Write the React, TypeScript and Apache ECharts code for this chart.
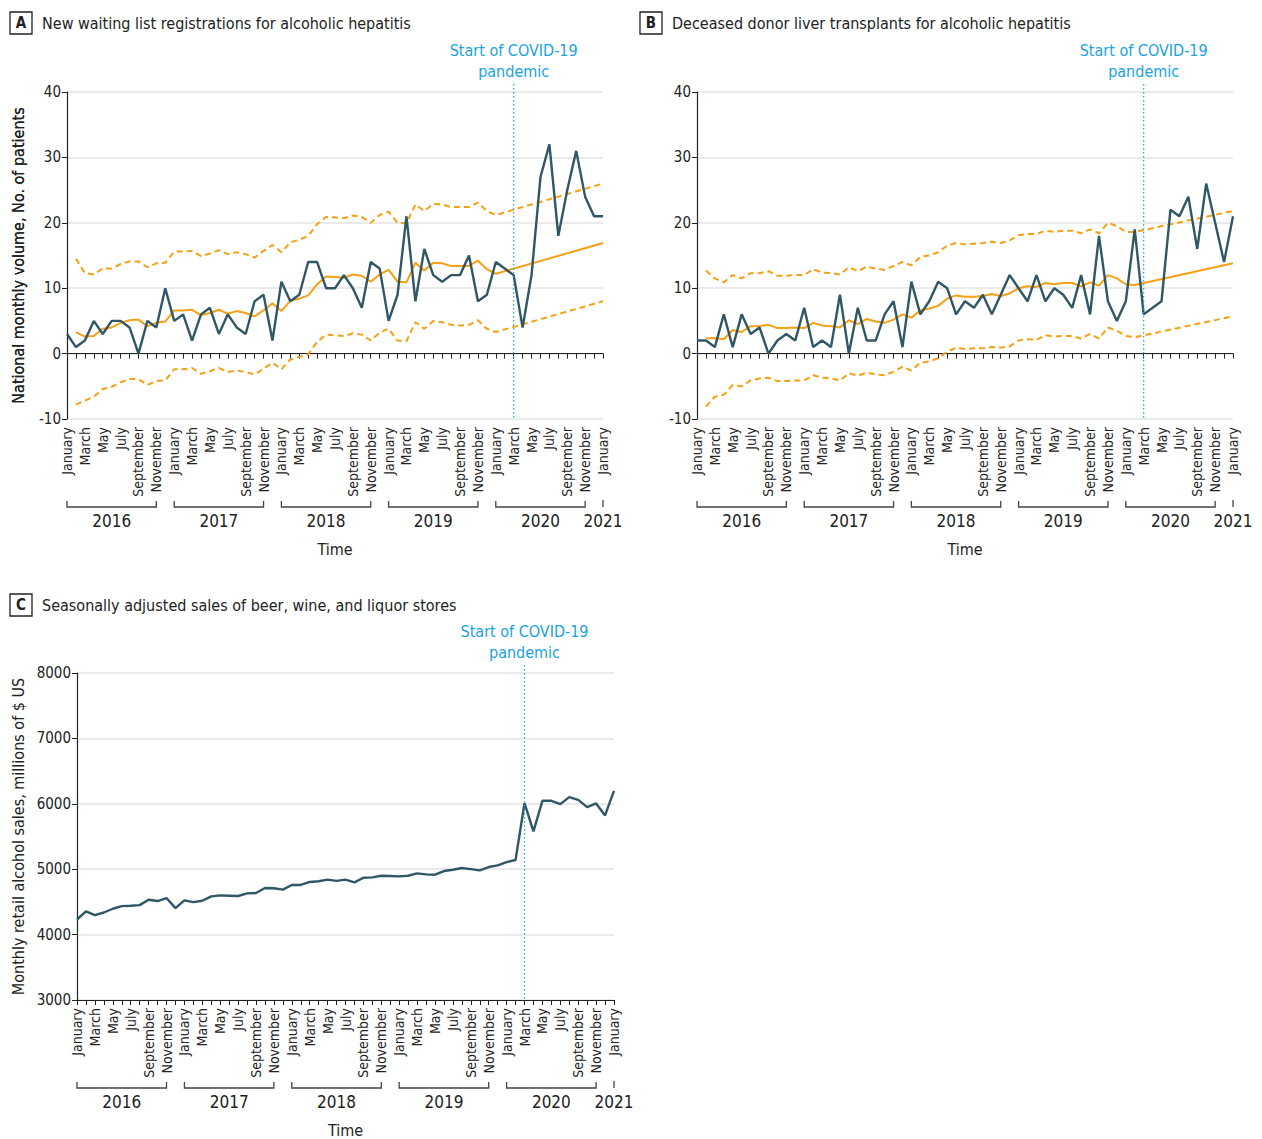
import React, { useEffect, useRef } from "react";
import * as echarts from "echarts";

const monthNames = ["January","February","March","April","May","June","July","August","September","October","November","December"];
const yearList = [2016, 2017, 2018, 2019, 2020];
const lastYear = 2021;

const categories: string[] = [];
yearList.forEach((y) => monthNames.forEach((m) => categories.push(m + " " + y)));
categories.push("January " + lastYear);

const N = null;

// Panel A: new waiting list registrations
const regA = [3,1,2,5,3,5,5,4,0,5,4,10, 5,6,2,6,7,3,6,4,3,8,9,2, 11,8,9,14,14,10,10,12,10,7,14,13, 5,9,21,8,16,12,11,12,12,15,8,9, 14,13,12,4,12,27,32,18,25,31,24,21,21];
const fitA = [N,3.3,2.6,2.7,3.8,4.0,4.7,5.1,5.2,4.2,4.7,4.9, 6.6,6.6,6.7,5.9,6.2,6.7,6.1,6.5,6.2,5.7,6.6,7.7, 6.5,8.1,8.4,8.9,10.6,11.8,11.7,11.6,12.1,11.9,11.0,12.1, 12.8,11.0,10.9,13.9,12.7,13.9,13.8,13.4,13.4,13.4,14.2,12.9, 12.2,N,N,N,N,N,N,N,N,N,N,N,16.9];
const upA = [N,14.5,12.3,12.1,13.0,13.0,13.7,14.1,14.1,13.2,13.8,13.9, 15.6,15.6,15.7,14.9,15.3,15.8,15.2,15.5,15.2,14.7,15.7,16.6, 15.5,17.0,17.4,18.0,19.8,20.9,20.8,20.7,21.1,20.9,20.0,21.2, 21.7,20.0,19.9,22.8,21.8,22.9,22.8,22.4,22.4,22.4,23.1,21.8, 21.2,N,N,N,N,N,N,N,N,N,N,N,26.0];
const loA = [N,-7.8,-7.2,-6.6,-5.4,-5.1,-4.4,-3.9,-3.9,-4.8,-4.2,-4.1, -2.4,-2.4,-2.2,-3.1,-2.7,-2.2,-2.8,-2.6,-2.8,-3.2,-2.3,-1.4, -2.4,-0.9,-0.5,-0.1,1.8,2.9,2.8,2.7,3.1,2.9,2.0,3.2, 3.8,2.0,1.9,4.8,3.8,5.0,4.8,4.4,4.3,4.4,5.1,3.8, 3.3,N,N,N,N,N,N,N,N,N,N,N,8.0];

// Panel B: deceased donor liver transplants
const regB = [2,2,1,6,1,6,3,4,0,2,3,2, 7,1,2,1,9,0,7,2,2,6,8,1, 11,6,8,11,10,6,8,7,9,6,9,12, 10,8,12,8,10,9,7,12,6,18,8,5, 8,19,6,7,8,22,21,24,16,26,20,14,21];
const fitB = [N,2.3,2.4,2.2,3.6,3.3,4.2,4.2,4.4,3.9,3.9,4.0, 3.9,4.7,4.3,4.2,4.0,5.1,4.5,5.3,4.9,4.7,5.2,6.0, 5.5,6.6,6.9,7.3,8.4,8.9,8.7,8.7,8.8,9.1,8.8,9.2, 10.0,10.3,10.2,10.8,10.6,10.8,10.8,10.3,10.9,10.4,12.0,11.5, 10.6,10.5,N,N,N,N,N,N,N,N,N,N,13.8];
const upB = [N,12.7,11.5,10.9,12.0,11.5,12.3,12.3,12.6,11.9,11.9,12.0, 12.0,12.9,12.4,12.3,12.1,13.2,12.6,13.3,13.0,12.8,13.4,14.0, 13.5,14.8,15.0,15.5,16.5,16.9,16.7,16.8,16.9,17.1,16.9,17.3, 18.1,18.3,18.3,18.8,18.6,18.8,18.8,18.4,19.0,18.4,20.0,19.5, 18.6,18.6,N,N,N,N,N,N,N,N,N,N,21.8];
const loB = [N,-8.1,-6.6,-6.3,-4.8,-5.0,-4.1,-3.8,-3.7,-4.2,-4.2,-4.1, -4.1,-3.3,-3.7,-3.8,-4.1,-3.0,-3.4,-2.9,-3.2,-3.3,-2.8,-2.0, -2.6,-1.4,-1.2,-0.7,0.3,0.9,0.7,0.8,0.8,1.0,0.9,1.1, 2.0,2.2,2.1,2.8,2.6,2.7,2.7,2.3,3.0,2.3,4.0,3.5, 2.7,2.5,N,N,N,N,N,N,N,N,N,N,5.7];

// Panel C: alcohol sales
const salesC = [4231,4354,4297,4338,4395,4436,4441,4451,4533,4513,4559,4405, 4523,4497,4518,4585,4600,4595,4590,4631,4636,4713,4708,4687, 4759,4759,4805,4815,4841,4821,4840,4799,4870,4875,4900,4895, 4890,4900,4936,4921,4916,4972,4992,5018,5002,4982,5033,5058, 5109,5140,6010,5578,6046,6046,5995,6102,6061,5949,6005,5822,6199];

const covidIndex = 50;
const titles = [
  { letter: "A", text: "New waiting list registrations for alcoholic hepatitis" },
  { letter: "B", text: "Deceased donor liver transplants for alcoholic hepatitis" },
  { letter: "C", text: "Seasonally adjusted sales of beer, wine, and liquor stores" },
];
const yNames = ["National monthly volume, No. of patients", "National monthly volume, No. of patients", "Monthly retail alcohol sales, millions of $ US"];
const covidLabel = ["Start of COVID-19", "pandemic"];
const xName = "Time";

const FONT = "'Liberation Sans Narrow', 'DejaVu Sans Condensed', 'Noto Sans', sans-serif";
const DARK = "#2f5766";
const ORANGE = "#f5a015";
const CYAN = "#1aa3df";
const INK = "#222";

const grids = [
  { left: 67, top: 92, width: 536, height: 327 },
  { left: 697, top: 92, width: 536, height: 327 },
  { left: 77, top: 673, width: 537, height: 327 },
];
const boxPos = [
  { x: 10, y: 12 },
  { x: 640, y: 12 },
  { x: 10, y: 594 },
];

export default function App() {
  const ref = useRef<HTMLDivElement>(null);
  useEffect(() => {
    if (!ref.current) return;
    const chart = echarts.init(ref.current, null, { renderer: "svg" });

    const xAxis = grids.map((_, k) => ({
      type: "category",
      gridIndex: k,
      data: categories,
      boundaryGap: false,
      axisLine: { show: true, lineStyle: { color: INK, width: 1.2 } },
      axisTick: { show: true, interval: 0, length: 5, lineStyle: { color: INK, width: 1 } },
      axisLabel: {
        interval: 1,
        rotate: 90,
        fontSize: 14,
        color: INK,
        margin: 8,
        fontFamily: FONT,
        formatter: (v: string) => v.split(" ")[0],
      },
      splitLine: { show: false },
    }));

    const yAxis = grids.map((_, k) => ({
      type: "value",
      gridIndex: k,
      min: k === 2 ? 3000 : -10,
      max: k === 2 ? 8000 : 40,
      interval: k === 2 ? 1000 : 10,
      axisLine: { show: true, lineStyle: { color: INK, width: 1.2 } },
      axisTick: { show: true, length: 5, lineStyle: { color: INK } },
      axisLabel: { fontSize: 15, color: INK, margin: 6, fontFamily: FONT, formatter: (v: number) => String(v) },
      splitLine: { show: true, lineStyle: { color: "#e3e3e3", width: 1.5 } },
    }));

    const line = (k: number, data: any[], color: string, width: number, dashed: boolean, z: number) => ({
      type: "line",
      xAxisIndex: k,
      yAxisIndex: k,
      data,
      showSymbol: false,
      symbol: "none",
      connectNulls: true,
      z,
      lineStyle: { color, width, type: dashed ? [6, 4] : "solid" },
      emphasis: { disabled: true },
    });

    const series = [
      line(0, upA, ORANGE, 2, true, 2),
      line(0, loA, ORANGE, 2, true, 2),
      line(0, fitA, ORANGE, 2, false, 2),
      line(0, regA, DARK, 2.4, false, 3),
      line(1, upB, ORANGE, 2, true, 2),
      line(1, loB, ORANGE, 2, true, 2),
      line(1, fitB, ORANGE, 2, false, 2),
      line(1, regB, DARK, 2.4, false, 3),
      line(2, salesC, DARK, 2.4, false, 3),
    ];

    chart.setOption({
      animation: false,
      textStyle: { fontFamily: FONT },
      grid: grids.map((g) => ({ ...g, containLabel: false })),
      xAxis,
      yAxis,
      series,
    });

    const graphic: any[] = [];
    grids.forEach((g, k) => {
      const px = (i: number) => chart.convertToPixel({ xAxisIndex: k }, i) as number;
      const bottom = g.top + g.height;
      // title box
      const b = boxPos[k];
      graphic.push({ type: "rect", shape: { x: b.x, y: b.y, width: 22, height: 22 }, style: { fill: "#fff", stroke: INK, lineWidth: 1.3 } });
      graphic.push({ type: "text", x: b.x + 11, y: b.y + 11, style: { text: titles[k].letter, font: "bold 15px " + FONT, fill: INK, align: "center", verticalAlign: "middle" } });
      graphic.push({ type: "text", x: b.x + 32, y: b.y + 11, style: { text: titles[k].text, font: "16px " + FONT, fill: INK, align: "left", verticalAlign: "middle" } });
      // y name
      graphic.push({ type: "text", x: 18, y: g.top + g.height / 2, rotation: Math.PI / 2, style: { text: yNames[k], font: "16px " + FONT, fill: INK, align: "center", verticalAlign: "middle" } });
      // covid line + label
      const cx = px(covidIndex);
      graphic.push({ type: "line", shape: { x1: cx, y1: g.top - 8, x2: cx, y2: bottom }, style: { stroke: CYAN, lineWidth: 1.2, lineDash: [1.5, 2.5] }, z: 10 });
      graphic.push({ type: "text", x: cx, y: g.top - 42, style: { text: covidLabel[0], font: "16px " + FONT, fill: CYAN, align: "center", verticalAlign: "middle" } });
      graphic.push({ type: "text", x: cx, y: g.top - 21, style: { text: covidLabel[1], font: "16px " + FONT, fill: CYAN, align: "center", verticalAlign: "middle" } });
      // year brackets
      const by = bottom + 88;
      yearList.forEach((yr, j) => {
        const x1 = px(j * 12);
        const x2 = px(j * 12 + 10);
        graphic.push({ type: "polyline", shape: { points: [[x1, by - 6], [x1, by], [x2, by], [x2, by - 6]] }, style: { stroke: "#444", lineWidth: 1.3, fill: null } });
        graphic.push({ type: "text", x: (x1 + x2) / 2, y: by + 14, style: { text: String(yr), font: "17px " + FONT, fill: INK, align: "center", verticalAlign: "middle" } });
      });
      const xl = px(60);
      graphic.push({ type: "line", shape: { x1: xl, y1: by - 7, x2: xl, y2: by }, style: { stroke: "#444", lineWidth: 1.3 } });
      graphic.push({ type: "text", x: xl, y: by + 14, style: { text: String(lastYear), font: "17px " + FONT, fill: INK, align: "center", verticalAlign: "middle" } });
      // x name
      graphic.push({ type: "text", x: g.left + g.width / 2, y: bottom + 130, style: { text: xName, font: "16px " + FONT, fill: INK, align: "center", verticalAlign: "middle" } });
    });
    chart.setOption({ graphic });

    return () => chart.dispose();
  }, []);
  return <div ref={ref} style={{ position: "absolute", left: 0, top: 0, width: 1262, height: 1139, background: "#fff" }} />;
}
